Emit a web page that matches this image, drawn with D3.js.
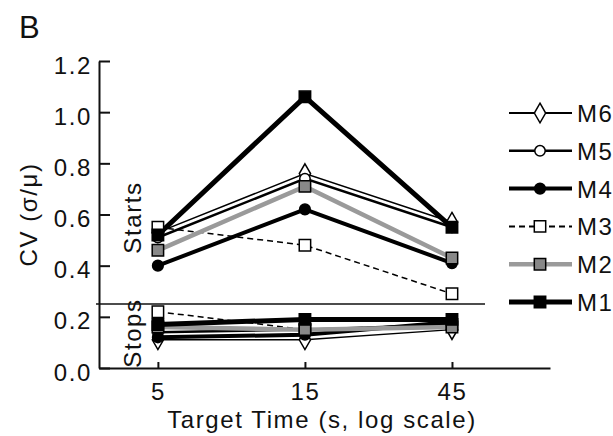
<!DOCTYPE html>
<html>
<head>
<meta charset="utf-8">
<script src="https://cdn.jsdelivr.net/npm/d3@7/dist/d3.min.js"></script>
<style>
  html, body { margin: 0; padding: 0; background: #fff; }
  svg text { font-family: "Liberation Sans", Arial, sans-serif; fill: #111; letter-spacing: 1.6px; }
</style>
</head>
<body>
<svg id="chart" width="613" height="436"></svg>
<script>
// Target durations (seconds), plotted on a log axis
const targetTimes = [5, 15, 45];
const yTicks = [0, 0.2, 0.4, 0.6, 0.8, 1.0, 1.2];
const seriesNames = ["M6", "M5", "M4", "M3", "M2", "M1"];

// Coefficient of variation for start times
const startsM1 = [0.52, 1.06, 0.55];
const startsM2 = [0.46, 0.71, 0.43];
const startsM3 = [0.55, 0.48, 0.29];
const startsM4 = [0.40, 0.62, 0.41];
const startsM5 = [0.51, 0.74, 0.55];
const startsM6 = [0.53, 0.76, 0.57];

// Coefficient of variation for stop times
const stopsM1 = [0.17, 0.19, 0.19];
const stopsM2 = [0.16, 0.15, 0.16];
const stopsM3 = [0.22, 0.15, 0.17];
const stopsM4 = [0.12, 0.13, 0.18];
const stopsM5 = [0.14, 0.15, 0.17];
const stopsM6 = [0.11, 0.11, 0.15];

// Boundary drawn between the two panels
const splitValue = 0.25;

const styles = {
  M1: { stroke: "#000", width: 5,   dash: null,  symbol: d3.symbolSquare,  size: 130, fill: "#000" },
  M2: { stroke: "#9a9a9a", width: 4.5, dash: null, symbol: d3.symbolSquare, size: 130, fill: "#888" },
  M3: { stroke: "#000", width: 1.5, dash: "6,4", symbol: d3.symbolSquare,  size: 130, fill: "#fff" },
  M4: { stroke: "#000", width: 4,   dash: null,  symbol: d3.symbolCircle,  size: 90,  fill: "#000" },
  M5: { stroke: "#000", width: 2.5, dash: null,  symbol: d3.symbolCircle,  size: 85,  fill: "#fff" },
  M6: { stroke: "#000", width: 1.5, dash: null,  symbol: d3.symbolDiamond, size: 110, fill: "#fff" }
};

const starts = { M1: startsM1, M2: startsM2, M3: startsM3, M4: startsM4, M5: startsM5, M6: startsM6 };
const stops  = { M1: stopsM1,  M2: stopsM2,  M3: stopsM3,  M4: stopsM4,  M5: stopsM5,  M6: stopsM6 };

const svg = d3.select("#chart");

const x = d3.scaleLog().domain([3.22, 93.6]).range([99, 550]);
const y = d3.scaleLinear().domain([0, 1.2]).range([368, 61]);

// Axes
const yAxis = svg.append("g")
  .attr("transform", "translate(99,0)")
  .call(d3.axisLeft(y).tickValues(yTicks).tickFormat(d3.format(".1f"))
        .tickSizeInner(-11).tickSizeOuter(0).tickPadding(7));
const xAxis = svg.append("g")
  .attr("transform", "translate(0,368)")
  .call(d3.axisBottom(x).tickValues(targetTimes).tickFormat(d3.format("d"))
        .tickSizeInner(-6).tickSizeOuter(0).tickPadding(15));

[yAxis, xAxis].forEach(g => {
  g.selectAll("path.domain").attr("stroke", "#111").attr("stroke-width", 2);
  g.selectAll(".tick line").attr("stroke", "#111").attr("stroke-width", 2);
  g.selectAll(".tick text").attr("font-size", 24).attr("fill", "#111");
});
yAxis.selectAll(".tick text").attr("dy", 12);

// Panel separator
svg.append("line")
  .attr("x1", 96).attr("x2", 485)
  .attr("y1", y(splitValue)).attr("y2", y(splitValue))
  .attr("stroke", "#111").attr("stroke-width", 1.5);

const line = d3.line().x((d, i) => x(targetTimes[i])).y(d => y(d));

// Draw series so that M1 ends up on top
const order = ["M6", "M5", "M4", "M3", "M2", "M1"];
[starts, stops].forEach(set => {
  order.forEach(name => {
    const s = styles[name];
    svg.append("path")
      .attr("d", line(set[name]))
      .attr("fill", "none")
      .attr("stroke", s.stroke)
      .attr("stroke-width", s.width)
      .attr("stroke-dasharray", s.dash)
      .attr("stroke-linejoin", "miter");
  });
  order.forEach(name => {
    const s = styles[name];
    svg.selectAll(null).data(set[name]).enter().append("path")
      .attr("transform", (d, i) => `translate(${x(targetTimes[i])},${y(d)})`)
      .attr("d", d3.symbol().type(s.symbol).size(s.size))
      .attr("fill", s.fill)
      .attr("stroke", "#000")
      .attr("stroke-width", 1.5);
  });
});

// Panel labels
svg.append("text")
  .attr("transform", `translate(141,${(y(splitValue) + y(1.2)) / 2 + 35}) rotate(-90)`)
  .attr("font-size", 24)
  .attr("text-anchor", "middle")
  .text("Starts");
svg.append("text")
  .attr("transform", `translate(141,${(y(0) + y(splitValue)) / 2 - 3}) rotate(-90)`)
  .attr("font-size", 24)
  .attr("text-anchor", "middle")
  .text("Stops");

// Axis titles
svg.append("text")
  .attr("transform", `translate(37,${(y(0) + y(1.2)) / 2}) rotate(-90)`)
  .attr("font-size", 24)
  .attr("text-anchor", "middle")
  .text("CV (σ/μ)");
svg.append("text")
  .attr("x", 322).attr("y", 428)
  .attr("font-size", 24)
  .attr("text-anchor", "middle")
  .text("Target Time (s, log scale)");

// Panel letter
svg.append("text")
  .attr("x", 19).attr("y", 38)
  .attr("font-size", 31)
  .text("B");

// Legend
const legend = svg.append("g");
seriesNames.forEach((name, i) => {
  const s = styles[name];
  const ly = 113 + i * 37.8;
  const g = legend.append("g").attr("transform", `translate(0,${ly})`);
  g.append("line")
    .attr("x1", 509).attr("x2", 572)
    .attr("stroke", s.stroke).attr("stroke-width", s.width === 1.5 ? 2 : s.width)
    .attr("stroke-dasharray", s.dash);
  g.append("path")
    .attr("transform", "translate(540,0)")
    .attr("d", d3.symbol().type(s.symbol).size(s.size))
    .attr("fill", s.fill).attr("stroke", "#000").attr("stroke-width", 1.5);
  g.append("text")
    .attr("x", 577).attr("y", 9)
    .attr("font-size", 24)
    .text(name);
});
</script>
</body>
</html>
